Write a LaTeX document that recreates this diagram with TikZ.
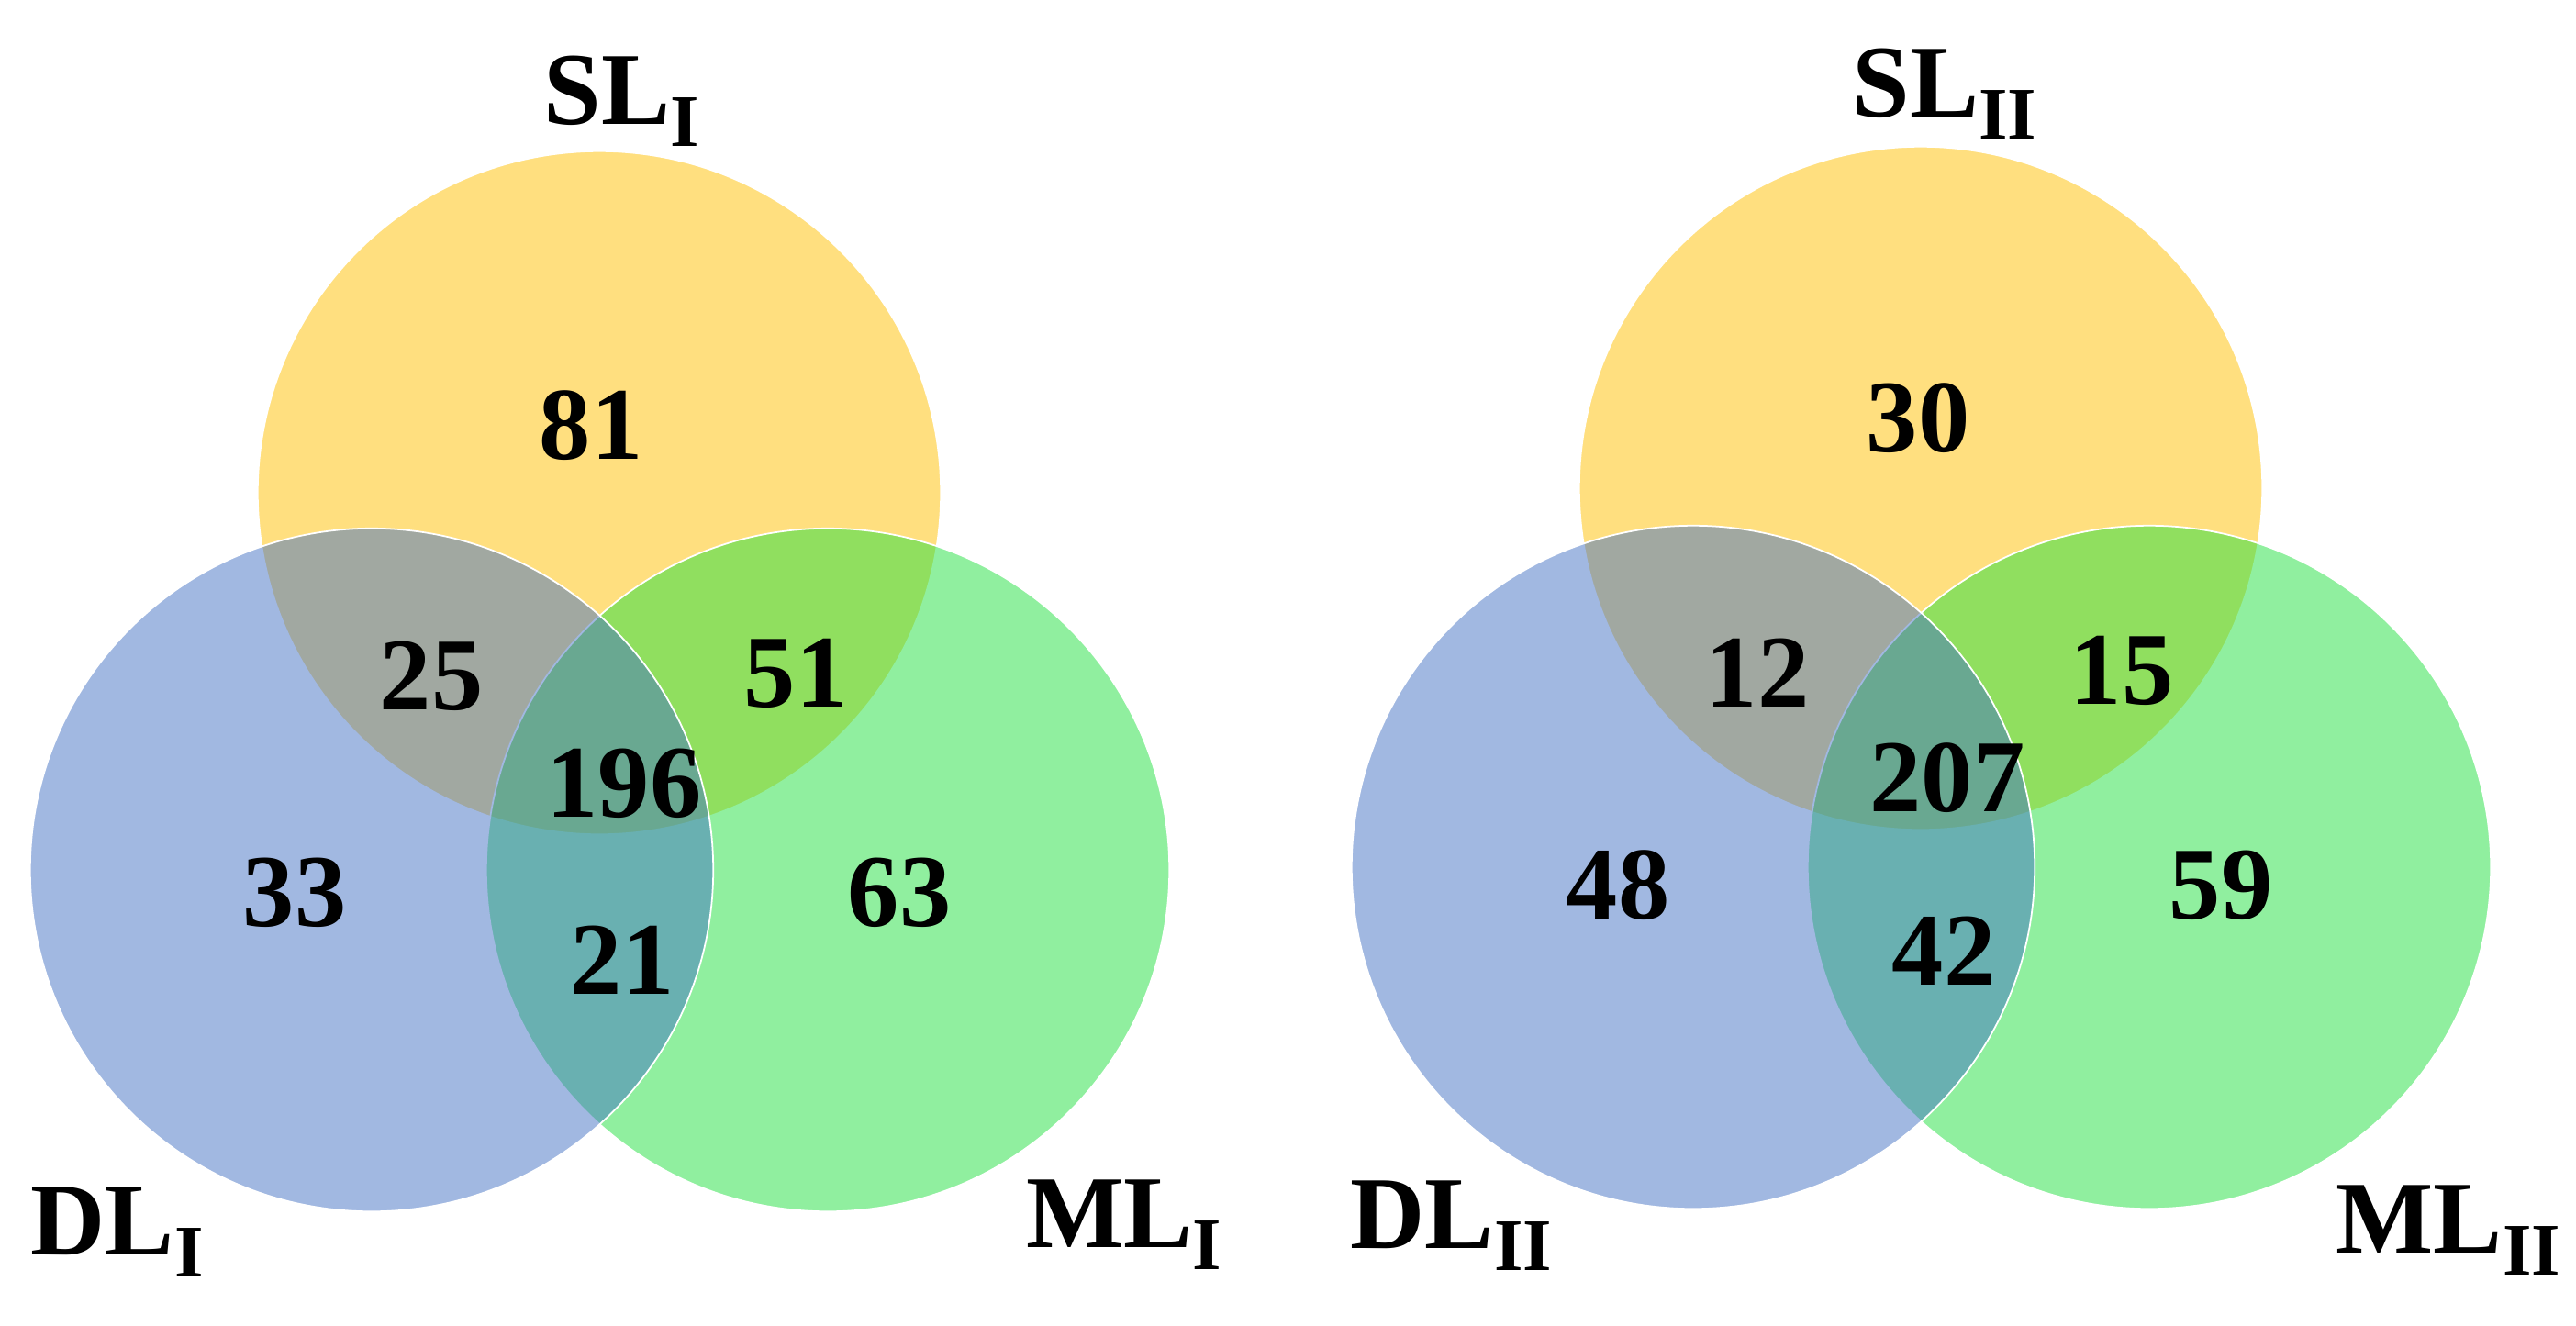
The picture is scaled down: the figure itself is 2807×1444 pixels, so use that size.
\documentclass[tikz,border=0pt]{standalone}
\usepackage{fontspec}
\setmainfont{Liberation Serif}
\definecolor{vyel}{RGB}{255,192,0}
\definecolor{vblu}{RGB}{68,114,196}
\definecolor{vgrn}{RGB}{34,224,64}
\newcommand{\vsub}[1]{\raisebox{-7pt}{\fontsize{23}{26}\selectfont #1}}
\begin{document}
\begin{tikzpicture}[x=0.01cm,y=-0.01cm,
  setc/.style={circle,minimum size=7.44cm,inner sep=0pt,draw=white,line width=0.5pt,fill=#1,fill opacity=0.5},
  num/.style={font=\fontsize{32}{36}\selectfont\bfseries,inner sep=0pt},
  lab/.style={font=\fontsize{32}{36}\selectfont\bfseries,inner sep=0pt,anchor=base west}]
\useasboundingbox (0,0) rectangle (2807,1444);
% left diagram
\node[setc=vyel] (ya) at (653,537) {};
\node[setc=vgrn] (ga) at (902,948) {};
\node[setc=vblu] (ba) at (405,948) {};
% right diagram
\node[setc=vyel] (yb) at (2093,532) {};
\node[setc=vgrn] (gb) at (2342,945) {};
\node[setc=vblu] (bb) at (1845,945) {};
% numbers left
\node[num] (n81) at (644,464) {81};
\node[num] (n25) at (470,737) {25};
\node[num] (n51) at (867,734) {51};
\node[num] (n196) at (680,854) {196};
\node[num] (n33) at (321,973) {33};
\node[num] (n63) at (980,973) {63};
\node[num] (n21) at (678,1046) {21};
% numbers right
\node[num] (n30) at (2090,456) {30};
\node[num] (n12) at (1915,733) {12};
\node[num] (n15) at (2312,731) {15};
\node[num] (n207) at (2122,848) {207};
\node[num] (n48) at (1763,965) {48};
\node[num] (n59) at (2420,965) {59};
\node[num] (n42) at (2118,1036) {42};
% labels
\node[lab] (sla) at (592,135) {SL\vsub{I}};
\node[lab] (dla) at (33,1367) {DL\vsub{I}};
\node[lab] (mla) at (1118,1359) {ML\vsub{I}};
\node[lab] (slb) at (2018,127) {SL\vsub{II}};
\node[lab] (dlb) at (1471,1360) {DL\vsub{II}};
\node[lab] (mlb) at (2545,1365) {ML\vsub{II}};
\end{tikzpicture}
\end{document}
